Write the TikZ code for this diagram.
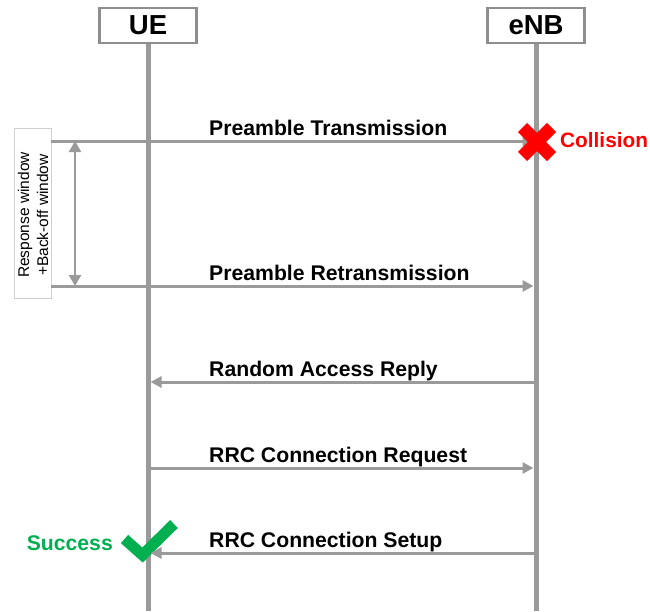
\documentclass[tikz,border=0pt]{standalone}
\usepackage{fontspec}
\setmainfont{Liberation Sans}
\usetikzlibrary{arrows.meta}
\definecolor{lineGray}{HTML}{9A9A9A}
\definecolor{boxGray}{HTML}{8E8E8E}
\definecolor{paleGray}{HTML}{CFCFCF}
\definecolor{okGreen}{HTML}{00B050}
\definecolor{failRed}{HTML}{FF0000}
\tikzset{
  msgtip/.tip={Triangle[length=11pt,width=11pt]},
  wintip/.tip={Triangle[length=11pt,width=12pt]}
}
\begin{document}
\begin{tikzpicture}[x=1pt,y=-1pt,
  actor/.style={draw=boxGray, line width=2.5pt, fill=white, minimum width=97pt,
    minimum height=35pt, inner sep=0pt, font=\fontsize{27.5}{30}\selectfont\bfseries},
  lifeline/.style={draw=lineGray, line width=5pt},
  msg/.style={draw=lineGray, line width=3pt, -{msgtip}},
  msglabel/.style={anchor=base west, inner sep=0pt, font=\fontsize{21.2}{24}\selectfont\bfseries}
]
\useasboundingbox (0,0) rectangle (650,611);

% lifeline ends and message end points
\coordinate (ueEnd) at (148,611);
\coordinate (enbEnd) at (536,611);

\coordinate (t1s) at (51,141);   \coordinate (t1e) at (533.5,141);
\coordinate (t2s) at (51,286);   \coordinate (t2e) at (533.5,286);
\coordinate (t3s) at (536,382);  \coordinate (t3e) at (150.5,382);
\coordinate (t4s) at (148,468);  \coordinate (t4e) at (533.5,468);
\coordinate (t5s) at (536,553);  \coordinate (t5e) at (150.5,553);

% actors and lifelines
\node[actor] (ue) at (148,25.5) {UE};
\node[actor] (enb) at (536,25.5) {eNB};
\draw[lifeline] (ue.south) -- (ueEnd);
\draw[lifeline] (enb.south) -- (enbEnd);

% success tick, over the UE lifeline
\draw[okGreen, line width=11pt, line join=miter] (124.5,539) -- (142.5,555) -- (174,524);

% waiting window
\node[draw=paleGray, line width=1pt, fill=white, minimum width=37pt,
      minimum height=170pt, inner sep=0pt] (win) at (32.5,213) {};
\node[rotate=90, align=center, inner sep=0pt,
      font=\fontsize{15.5}{19}\selectfont] (wintext) at ([xshift=0.5pt,yshift=-2pt]win.center)
      {Response window\\+Back-off window};
\coordinate (wtop) at (75,141);
\coordinate (wbot) at (75,286);
\draw[draw=lineGray, line width=2.5pt, {wintip}-{wintip}] (wtop) -- (wbot);

% messages
\draw[msg] (t1s) -- (t1e);
\draw[msg] (t2s) -- (t2e);
\draw[msg] (t3s) -- (t3e);
\draw[msg] (t4s) -- (t4e);
\draw[msg] (t5s) -- (t5e);

\node[msglabel] (l1) at (209,135.5) {Preamble Transmission};
\node[msglabel] (l2) at (209,280.5) {Preamble Retransmission};
\node[msglabel] (l3) at (209,376.5) {Random Access Reply};
\node[msglabel] (l4) at (209,462.5) {RRC Connection Request};
\node[msglabel] (l5) at (209,547.5) {RRC Connection Setup};

% collision mark
\coordinate (xc) at (537,142);
\draw[failRed, line width=13pt] ([shift={(-14.5,-14.5)}]xc) -- ([shift={(14.5,14.5)}]xc);
\draw[failRed, line width=13pt] ([shift={(-14.5,14.5)}]xc) -- ([shift={(14.5,-14.5)}]xc);
\node[msglabel, text=failRed, font=\fontsize{20.8}{24}\selectfont\bfseries] (coll) at (560,147) {Collision};

% success label
\node[anchor=base east, inner sep=0pt, text=okGreen,
      font=\fontsize{21.2}{24}\selectfont\bfseries] (succ) at (113,550) {Success};
\end{tikzpicture}
\end{document}
